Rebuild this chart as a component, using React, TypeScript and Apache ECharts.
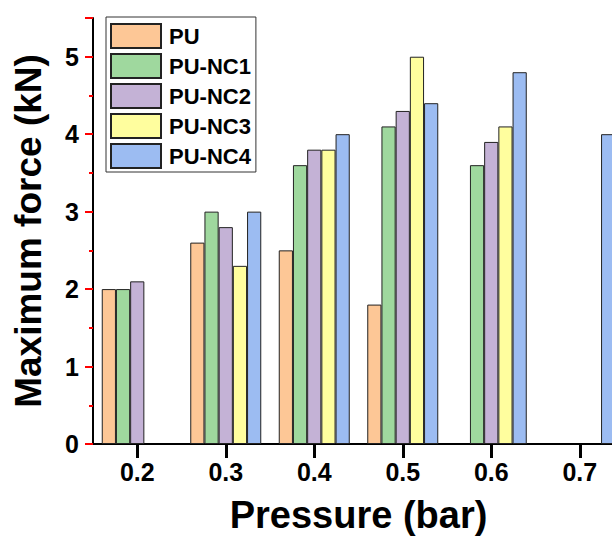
import React, { useEffect, useRef } from "react";
import * as echarts from "echarts";

const categories = ["0.2", "0.3", "0.4", "0.5", "0.6", "0.7"];
const seriesNames = ["PU", "PU-NC1", "PU-NC2", "PU-NC3", "PU-NC4"];
const puValues = [2.0, 2.6, 2.5, 1.8, null, null];
const nc1Values = [2.0, 3.0, 3.6, 4.1, 3.6, null];
const nc2Values = [2.1, 2.8, 3.8, 4.3, 3.9, null];
const nc3Values = [null, 2.3, 3.8, 5.0, 4.1, null];
const nc4Values = [null, 3.0, 4.0, 4.4, 4.8, 4.0];
const colors = ["#FDC796", "#9FD89E", "#C4B2D6", "#FFFE9E", "#9CBCF2"];

const FONT = "'Liberation Sans', Arial, sans-serif";
const Y_MAX = 5.5;

export default function App() {
  const ref = useRef<HTMLDivElement>(null);
  useEffect(() => {
    if (!ref.current) return;
    const chart = echarts.init(ref.current, undefined, { renderer: "svg" });
    const allValues = [puValues, nc1Values, nc2Values, nc3Values, nc4Values];
    chart.setOption({
      animation: false,
      textStyle: { fontFamily: FONT },
      grid: { left: 93, top: 18, bottom: 92, width: 531, containLabel: false, outerBoundsMode: "none" },
      legend: {
        orient: "vertical",
        left: 106,
        top: 17,
        padding: [6, 5, 3, 4],
        itemWidth: 50,
        itemHeight: 24,
        itemGap: 4,
        icon: "rect",
        borderColor: "#333",
        borderWidth: 1,
        backgroundColor: "#fff",
        textStyle: { fontFamily: FONT, fontWeight: "bold", fontSize: 22, color: "#000", padding: [0, 0, 0, 3] },
        data: seriesNames,
      },
      xAxis: {
        type: "category",
        data: categories,
        name: "Pressure (bar)",
        nameLocation: "middle",
        nameGap: 52,
        nameTextStyle: { fontFamily: FONT, fontWeight: "bold", fontSize: 38, color: "#000" },
        axisLine: { show: true, lineStyle: { color: "#000", width: 2 } },
        axisTick: { show: true, alignWithLabel: true, length: 14, lineStyle: { color: "#000", width: 3 } },
        axisLabel: { show: true, fontFamily: FONT, fontWeight: "bold", fontSize: 25, color: "#000", margin: 15 },
        splitLine: { show: false },
      },
      yAxis: {
        type: "value",
        min: 0,
        max: Y_MAX,
        interval: 1,
        name: "Maximum force (kN)",
        nameLocation: "middle",
        nameGap: 46,
        nameTextStyle: { fontFamily: FONT, fontWeight: "bold", fontSize: 37, color: "#000" },
        axisLine: { show: true, lineStyle: { color: "#000", width: 2 } },
        axisTick: { show: true, length: 8, lineStyle: { color: "red", width: 2 } },
        minorTick: { show: true, splitNumber: 2, length: 4, lineStyle: { color: "red", width: 2 } },
        axisLabel: {
          show: true,
          fontFamily: FONT,
          fontWeight: "bold",
          fontSize: 25,
          color: "#000",
          margin: 14,
          formatter: (v: number) => (Number.isInteger(v) ? String(v) : ""),
        },
        splitLine: { show: false },
        minorSplitLine: { show: false },
      },
      series: seriesNames.map((name, i) => ({
        name,
        type: "bar",
        barWidth: 14.2,
        barGap: "0%",
        data: allValues[i],
        itemStyle: { color: colors[i], borderColor: "#222", borderWidth: 1 },
      })),
    });
    return () => chart.dispose();
  }, []);
  return (
    <div style={{ position: "fixed", left: 0, top: 0, width: 612, height: 536, overflow: "hidden", background: "#fff" }}>
      <div ref={ref} style={{ width: 640, height: 536 }} />
    </div>
  );
}
